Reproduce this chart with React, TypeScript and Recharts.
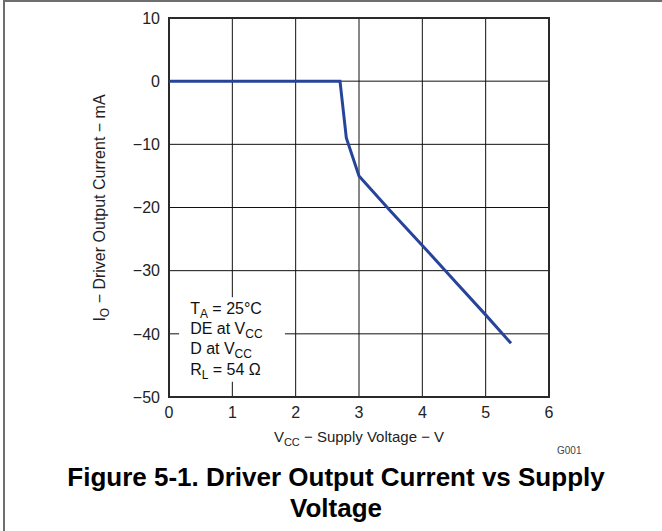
import React from 'react';
import {
  LineChart,
  Line,
  XAxis,
  YAxis,
  CartesianGrid,
  ReferenceArea,
  Label,
} from 'recharts';

// Curve
const supplyVoltage = [0, 2.7, 2.8, 3.0, 3.5, 4.0, 4.5, 5.0, 5.4];
const outputCurrent = [0, 0, -9, -15, -20.6, -26, -31.5, -37, -41.5];

const xTicks = [0, 1, 2, 3, 4, 5, 6];
const yTicks = [10, 0, -10, -20, -30, -40, -50];

const titleLines = ['Figure 5-1. Driver Output Current vs Supply', 'Voltage'];

const FONT = 'Arial, "Liberation Sans", Helvetica, sans-serif';

const chartData = supplyVoltage.map((v, i) => ({ v, io: outputCurrent[i] }));

const fmtMinus = (n: number) => (n < 0 ? '\u2212' + Math.abs(n) : String(n));

const AnnotationText = (props: any) => {
  const { x, y } = props.viewBox || {};
  const tx = x + 11;
  const style = { fontFamily: FONT, fontSize: 16, fill: '#111' };
  return (
    <g>
      <text x={tx} y={y + 17} style={style}>
        T<tspan dy={4} fontSize={12}>A</tspan>
        <tspan dy={-4}> = 25°C</tspan>
      </text>
      <text x={tx} y={y + 37} style={style}>
        DE at V<tspan dy={4} fontSize={12}>CC</tspan>
      </text>
      <text x={tx} y={y + 57} style={style}>
        D at V<tspan dy={4} fontSize={12}>CC</tspan>
      </text>
      <text x={tx} y={y + 78} style={style}>
        R<tspan dy={4} fontSize={12}>L</tspan>
        <tspan dy={-4}> = 54 Ω</tspan>
      </text>
    </g>
  );
};

const XLabel = (props: any) => {
  const { x, width } = props.viewBox || {};
  return (
    <text
      x={x + width / 2}
      y={442}
      textAnchor="middle"
      style={{ fontFamily: FONT, fontSize: 15, fill: '#222' }}
    >
      V<tspan dy={4} fontSize={11}>CC</tspan>
      <tspan dy={-4}> {'\u2212'} Supply Voltage {'\u2212'} V</tspan>
    </text>
  );
};

const YLabel = () => {
  const cx = 105;
  const cy = 208;
  return (
    <text
      x={cx}
      y={cy}
      textAnchor="middle"
      transform={`rotate(-90, ${cx}, ${cy})`}
      style={{ fontFamily: FONT, fontSize: 16, fill: '#222' }}
    >
      I<tspan dy={4} fontSize={12}>O</tspan>
      <tspan dy={-4}> {'\u2212'} Driver Output Current {'\u2212'} mA</tspan>
    </text>
  );
};

export default function App() {
  return (
    <div
      style={{
        position: 'absolute',
        left: 0,
        top: 0,
        width: 662,
        height: 531,
        background: '#fff',
        overflow: 'hidden',
      }}
    >
      <div
        style={{
          position: 'absolute',
          left: 3,
          top: 0,
          width: 700,
          height: 600,
          borderLeft: '2px solid #6e6e6e',
          borderTop: '2px solid #6e6e6e',
        }}
      />
      <LineChart
        width={662}
        height={531}
        data={chartData}
        margin={{ top: 18, right: 113, bottom: 104, left: 69 }}
        style={{ position: 'absolute', left: 0, top: 0 }}
      >
        <CartesianGrid stroke="#111" strokeWidth={1} />
        <XAxis
          type="number"
          dataKey="v"
          domain={[0, 6]}
          ticks={xTicks}
          tickLine={false}
          tickSize={0}
          tickMargin={10}
          axisLine={false}
          height={30}
          tick={{ fontFamily: FONT, fontSize: 16, fill: '#222' }}
        >
          <Label content={<XLabel />} />
        </XAxis>
        <YAxis
          type="number"
          domain={[-50, 10]}
          ticks={yTicks}
          interval={0}
          tickLine={false}
          tickSize={0}
          tickMargin={9}
          axisLine={false}
          width={100}
          tickFormatter={fmtMinus}
          tick={{ fontFamily: FONT, fontSize: 16, fill: '#222' }}
        >
          <Label content={<YLabel />} />
        </YAxis>
        <ReferenceArea
          x1={0.16}
          x2={1.83}
          y1={-47.6}
          y2={-34.2}
          fill="#fff"
          fillOpacity={1}
          stroke="none"
          label={<AnnotationText />}
        />
        <ReferenceArea
          x1={0}
          x2={6}
          y1={-50}
          y2={10}
          fill="none"
          stroke="#2a2a2a"
          strokeWidth={2}
        />
        <Line
          type="linear"
          dataKey="io"
          stroke="#27449b"
          strokeWidth={3}
          dot={false}
          isAnimationActive={false}
        />
      </LineChart>
      <div
        style={{
          position: 'absolute',
          left: 557,
          top: 445,
          fontFamily: FONT,
          fontSize: 10,
          color: '#444',
        }}
      >
        G001
      </div>
      <div
        style={{
          position: 'absolute',
          left: 0,
          top: 462,
          width: 672,
          textAlign: 'center',
          fontFamily: FONT,
          fontWeight: 'bold',
          fontSize: 26,
          lineHeight: '31px',
          color: '#000',
        }}
      >
        {titleLines.map((t) => (
          <div key={t}>{t}</div>
        ))}
      </div>
    </div>
  );
}
